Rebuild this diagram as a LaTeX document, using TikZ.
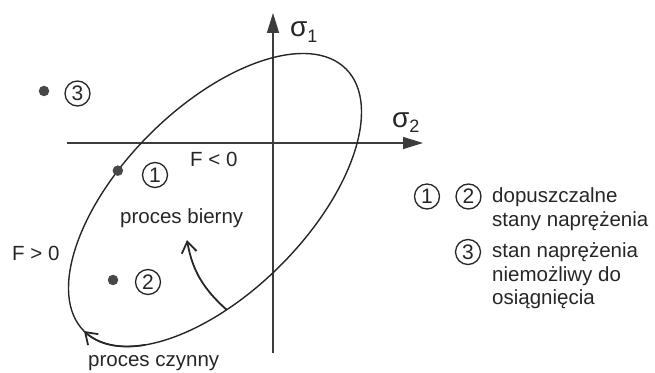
\documentclass[tikz,border=0pt]{standalone}
\usepackage{fontspec}
\setmainfont{Liberation Sans}
\usetikzlibrary{arrows.meta}
\definecolor{ink}{HTML}{262626}
\begin{document}
\begin{tikzpicture}[x=1pt,y=1pt,
  lbl/.style={font=\fontsize{20.5}{24}\selectfont, text=ink, inner sep=0pt},
  cnum/.style={circle, draw=ink, line width=1.3pt, minimum size=25pt, inner sep=0pt, font=\fontsize{21}{21}\selectfont, text=ink},
  pt/.style={circle, fill=ink!85, minimum size=10.5pt, inner sep=0pt},
  axisline/.style={draw=ink!90, line width=1.5pt, -{Triangle[length=20pt,width=12pt]}},
  curve/.style={draw=ink, line width=1.4pt},
  barb/.style={-{Straight Barb[length=11pt,width=15pt,line width=1.8pt]}}]
\useasboundingbox (0,0) rectangle (655,372);

% axes
\coordinate (vb) at (273,19);
\coordinate (vt) at (273,359);
\coordinate (hl) at (67,229);
\coordinate (hr) at (423,229);
\draw[axisline] (vb) -- (vt);
\draw[axisline] (hl) -- (hr);

% ellipse
\begin{scope}[shift={(215,172)}, rotate=45]
  \draw[curve] (0,0) ellipse [x radius=185.3, y radius=92.6];
  \coordinate (p1) at ({185.3*cos(105)},{92.6*sin(105)});
  \coordinate (eb) at ({185.3*cos(248)},{92.6*sin(248)});
  \draw[curve, line width=1.7pt, barb] plot[domain=215:180, samples=20] ({185.3*cos(\x)},{92.6*sin(\x)});
\end{scope}

% passive process arrow
\coordinate (bt) at (187,132);
\draw[curve, line width=1.8pt, barb] (eb) to[out=138,in=-80] (bt);

% points
\node[pt] (d1) at (p1) {};
\node[pt] (d2) at (113,92) {};
\node[pt] (d3) at (44,281) {};
\node[cnum] (c1) at (155,197) {1};
\node[cnum] (c2) at (148,90) {2};
\node[cnum] (c3) at (77.5,278.5) {3};

% axis labels
\node[lbl, anchor=base west] (s1) at (290,335) {{\fontsize{28}{28}\selectfont σ}\raisebox{-6pt}{\fontsize{18}{18}\selectfont 1}};
\node[lbl, anchor=base west] (s2) at (392,244) {{\fontsize{28}{28}\selectfont σ}\raisebox{-5pt}{\fontsize{18}{18}\selectfont 2}};

% texts
\node[lbl, anchor=base west] (fneg) at (190,205) {F < 0};
\node[lbl, anchor=base west] (fpos) at (12,111) {F > 0};
\node[lbl, anchor=base west] (pb) at (120,148) {proces bierny};
\node[lbl, anchor=base west] (pc) at (88,6) {proces czynny};

% legend
\node[cnum] (l1) at (427,175.5) {1};
\node[cnum] (l2) at (468.5,175.5) {2};
\node[lbl, anchor=base west] (t1) at (492,169) {dopuszczalne};
\node[lbl, anchor=base west] (t2) at (492,145) {stany naprężenia};
\node[cnum] (l3) at (468,120) {3};
\node[lbl, anchor=base west] (t3) at (492,114) {stan naprężenia};
\node[lbl, anchor=base west] (t4) at (492,90) {niemożliwy do};
\node[lbl, anchor=base west] (t5) at (492,67) {osiągnięcia};
\end{tikzpicture}
\end{document}
